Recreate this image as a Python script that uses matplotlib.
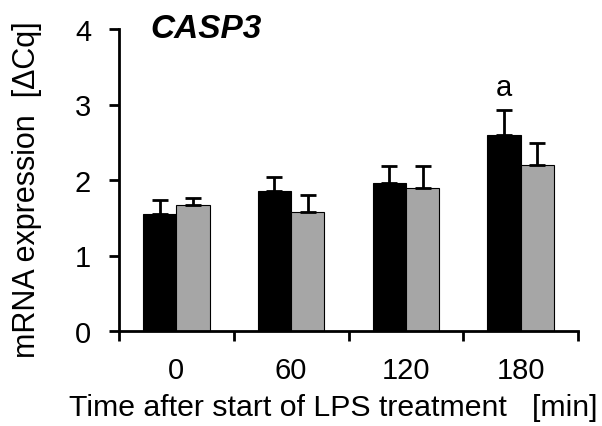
import matplotlib
matplotlib.use("Agg")
import matplotlib.pyplot as plt
import numpy as np

plt.rcParams['font.family'] = ['Liberation Sans', 'DejaVu Sans']

categories = ["0", "60", "120", "180"]
black_vals = [1.55, 1.86, 1.96, 2.60]
black_err = [0.18, 0.18, 0.23, 0.33]
gray_vals = [1.67, 1.57, 1.89, 2.20]
gray_err = [0.09, 0.23, 0.30, 0.29]
annot_text = "a"
annot_idx = 3
annot_y = 3.23
yticks = [0, 1, 2, 3, 4]

fig = plt.figure(figsize=(6.02, 4.27), dpi=100)
ax = fig.add_axes([119/602, 1-332/427, (578-119)/602, (332-30)/427])

x = np.arange(len(categories))
w = 0.29
ax.bar(x - w/2, black_vals, w, color='black', edgecolor='black', linewidth=0.8, zorder=2)
ax.bar(x + w/2, gray_vals, w, color='#a6a6a6', edgecolor='black', linewidth=0.8, zorder=2)
ax.errorbar(x - w/2, black_vals, yerr=[np.zeros(4), black_err], fmt='none',
            ecolor='black', elinewidth=2, capsize=6, capthick=2, zorder=3)
ax.errorbar(x + w/2, gray_vals, yerr=[np.zeros(4), gray_err], fmt='none',
            ecolor='black', elinewidth=2, capsize=6, capthick=2, zorder=3)

ax.text(x[annot_idx] - w/2, annot_y, annot_text, ha='center', va='center', fontsize=21)

ax.set_xlim(-0.5, len(categories) - 0.5)
ax.set_ylim(0, 4)
ax.set_yticks(yticks)
ax.set_yticklabels([str(t) for t in yticks], fontsize=21)
ax.set_xticks(np.arange(len(categories) + 1) - 0.5)
ax.set_xticklabels([])
ax.set_xticks(x, minor=True)
ax.set_xticklabels(categories, minor=True, fontsize=21)
ax.tick_params(axis='x', which='major', direction='out', length=7, width=2)
ax.tick_params(axis='x', which='minor', length=0, pad=18)
ax.tick_params(axis='y', direction='out', length=7, width=2, pad=13)

for s in ['top', 'right']:
    ax.spines[s].set_visible(False)
for s in ['left', 'bottom']:
    ax.spines[s].set_linewidth(2)

fig.text(150/602, 1-29/427, "CASP3", fontsize=24,
         fontweight='bold', fontstyle='italic', ha='left', va='center')

fig.text(27/602, 1-190/427, "mRNA expression  [\u0394Cq]", rotation=90,
         ha='center', va='center', fontsize=22)
fig.text(333/602, 1-408/427, "Time after start of LPS treatment   [min]",
         ha='center', va='center', fontsize=21.8)

fig.savefig("out.png", dpi=100)
